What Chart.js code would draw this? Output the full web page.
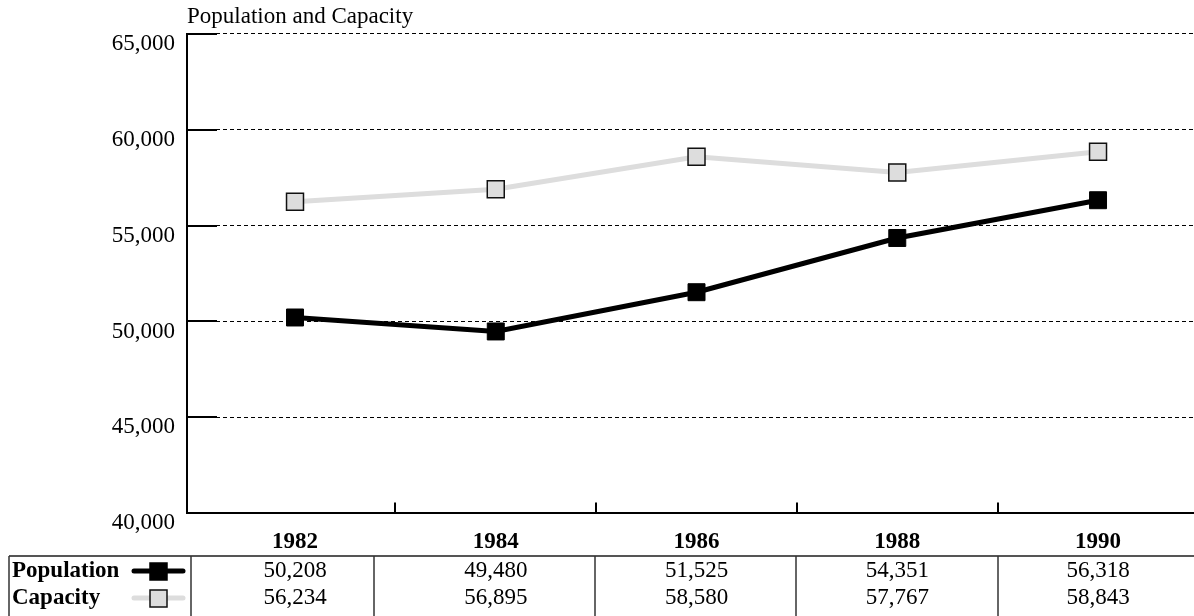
<!DOCTYPE html>
<html>
<head>
<meta charset="utf-8">
<script src="https://cdn.jsdelivr.net/npm/chart.js@4/dist/chart.umd.min.js"></script>
<style>
  body { margin: 0; background: #fff; }
  #wrap { width: 1194px; height: 616px; position: relative; }
</style>
</head>
<body>
<div id="wrap"><canvas id="lineChart"></canvas></div>
<script>
// data
const years = [1982, 1984, 1986, 1988, 1990];
const population = [50208, 49480, 51525, 54351, 56318];
const capacity = [56234, 56895, 58580, 57767, 58843];
const yTicks = [40000, 45000, 50000, 55000, 60000, 65000];

const serif = "'Liberation Serif', 'Times New Roman', serif";
const fmt = v => Number(v).toLocaleString('en-US');

// table below the plot, drawn by hand
const tablePlugin = {
  id: 'dataTable',
  afterDraw(chart) {
    const ctx = chart.ctx;
    const area = chart.chartArea;
    const x = chart.scales.x;
    const y = chart.scales.y;

    ctx.save();
    ctx.strokeStyle = '#000';
    ctx.lineWidth = 2;
    // short solid ticks on the inside of the y axis
    yTicks.forEach(v => {
      const py = Math.round(y.getPixelForValue(v));
      ctx.beginPath();
      ctx.moveTo(area.left, py);
      ctx.lineTo(area.left + 30, py);
      ctx.stroke();
    });
    // ticks between the years, standing up from the x axis
    for (let i = 0; i < years.length - 1; i++) {
      const px = Math.round(x.getPixelForValue((years[i] + years[i + 1]) / 2));
      ctx.beginPath();
      ctx.moveTo(px, area.bottom);
      ctx.lineTo(px, area.bottom - 11);
      ctx.stroke();
    }

    // table grid
    const top = 556;
    const rows = [571, 598];
    const cols = [9, 191, 374, 595, 796, 998];
    ctx.strokeStyle = '#555';
    ctx.lineWidth = 2;
    ctx.beginPath();
    ctx.moveTo(cols[0], top);
    ctx.lineTo(chart.width, top);
    ctx.stroke();
    ctx.strokeStyle = '#333';
    ctx.lineWidth = 1.5;
    cols.forEach(c => {
      ctx.beginPath();
      ctx.moveTo(c, top);
      ctx.lineTo(c, chart.height);
      ctx.stroke();
    });

    // row headers with line + marker swatches
    const series = chart.data.datasets;
    ctx.textBaseline = 'middle';
    series.forEach((ds, r) => {
      const ry = rows[r];
      ctx.font = 'bold 23px ' + serif;
      ctx.textAlign = 'left';
      ctx.fillStyle = '#000';
      ctx.fillText(ds.label, 12, ry);

      ctx.strokeStyle = ds.borderColor;
      ctx.lineWidth = ds.borderWidth;
      ctx.lineCap = 'round';
      ctx.beginPath();
      ctx.moveTo(134, ry);
      ctx.lineTo(183, ry);
      ctx.stroke();
      ctx.fillStyle = ds.pointBackgroundColor;
      ctx.fillRect(150, ry - 8, 17, 17);
      ctx.strokeStyle = ds.pointBorderColor;
      ctx.lineWidth = 1.5;
      ctx.strokeRect(150, ry - 8, 17, 17);

      ctx.font = '23px ' + serif;
      ctx.textAlign = 'center';
      ctx.fillStyle = '#000';
      ds.data.forEach(pt => {
        ctx.fillText(fmt(pt.y), x.getPixelForValue(pt.x), ry);
      });
    });
    ctx.restore();
  }
};

new Chart(document.getElementById('lineChart'), {
  type: 'line',
  data: {
    datasets: [
      {
        label: 'Population',
        data: years.map((yr, i) => ({ x: yr, y: population[i] })),
        borderColor: '#000',
        borderWidth: 5,
        pointStyle: 'rect',
        pointRadius: 12,
        pointBackgroundColor: '#000',
        pointBorderColor: '#000',
        pointBorderWidth: 1,
        tension: 0
      },
      {
        label: 'Capacity',
        data: years.map((yr, i) => ({ x: yr, y: capacity[i] })),
        borderColor: '#dddddd',
        borderWidth: 5,
        pointStyle: 'rect',
        pointRadius: 12,
        pointBackgroundColor: '#dddddd',
        pointBorderColor: '#111',
        pointBorderWidth: 1.5,
        tension: 0
      }
    ]
  },
  options: {
    responsive: true,
    maintainAspectRatio: false,
    animation: false,
    layout: { autoPadding: false, padding: { left: 0, right: 0, top: 0, bottom: 45 } },
    plugins: {
      legend: { display: false },
      tooltip: { enabled: false },
      title: {
        display: true,
        text: 'Population and Capacity',
        align: 'start',
        fullSize: false,
        color: '#000',
        font: { family: serif, size: 23, weight: 'normal' },
        padding: { top: 3, bottom: 3 }
      }
    },
    scales: {
      x: {
        type: 'linear',
        min: 1980.924,
        max: 1990.956,
        grid: { display: false, drawTicks: false },
        border: { display: true, color: '#000', width: 2 },
        afterBuildTicks: scale => {
          scale.ticks = years.map(v => ({ value: v }));
        },
        ticks: {
          color: '#000',
          padding: 15,
          font: { family: serif, size: 23, weight: 'bold' },
          callback: v => String(v)
        }
      },
      y: {
        min: 40000,
        max: 65000,
        afterFit: scale => { scale.width = 187; },
        grid: { color: '#000', lineWidth: 1, drawTicks: false },
        border: { display: true, color: '#000', width: 2, dash: [4, 3] },
        ticks: {
          stepSize: 5000,
          color: '#000',
          padding: 12,
          labelOffset: 10,
          font: { family: serif, size: 23 },
          callback: v => fmt(v)
        }
      }
    }
  },
  plugins: [tablePlugin]
});
</script>
</body>
</html>
